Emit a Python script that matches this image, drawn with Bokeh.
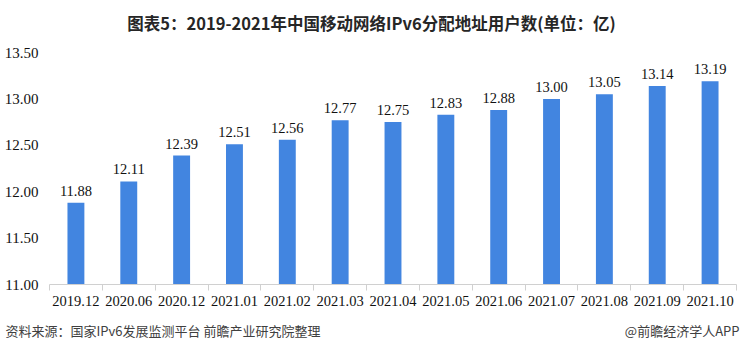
from bokeh.plotting import figure
from bokeh.layouts import column
from bokeh.models import ColumnDataSource, FixedTicker, Label, Range1d
from bokeh.embed import file_html
from bokeh.resources import INLINE
from bokeh.core.properties import value

categories = ["2019.12", "2020.06", "2020.12", "2021.01", "2021.02", "2021.03", "2021.04",
              "2021.05", "2021.06", "2021.07", "2021.08", "2021.09", "2021.10"]
values = [11.88, 12.11, 12.39, 12.51, 12.56, 12.77, 12.75, 12.83, 12.88, 13.00, 13.05, 13.14, 13.19]
y_ticks = [11.0, 11.5, 12.0, 12.5, 13.0, 13.5]

title_text = "图表5：2019-2021年中国移动网络IPv6分配地址用户数(单位：亿)"
source_text = "资料来源：国家IPv6发展监测平台 前瞻产业研究院整理"
brand_text = "@前瞻经济学人APP"

n = len(categories)
xs = [i + 0.5 for i in range(n)]
src = ColumnDataSource(dict(x=xs, top=values, lab=[f"{v:.2f}" for v in values]))

serif = "'Liberation Serif', 'Times New Roman', serif"
cjk = "'Noto Sans CJK SC', sans-serif"


def blank(h):
    f = figure(width=742, height=h, output_backend="svg", toolbar_location=None,
               x_axis_type=None, y_axis_type=None, x_range=Range1d(0, 1), y_range=Range1d(0, 1),
               min_border=0, min_border_left=0, min_border_right=0,
               min_border_top=0, min_border_bottom=0, frame_align=False)
    f.outline_line_color = None
    f.xgrid.grid_line_color = None
    f.ygrid.grid_line_color = None
    f.border_fill_color = "white"
    return f


# Header
head = blank(44)
head.add_layout(Label(x=371, y=22, x_units="screen", y_units="screen", text=title_text,
                      text_align="center", text_baseline="middle", text_font_style="bold",
                      text_font="'Liberation Sans Narrow', 'Arial Narrow', 'Noto Sans CJK SC', sans-serif",
                      text_font_size="16.5px", text_color="#262626"))

# Main chart
p = figure(width=742, height=268, output_backend="svg", toolbar_location=None,
           x_range=Range1d(0, n), y_range=Range1d(11.0, 13.5), frame_align=False,
           min_border_left=49, min_border_right=6, min_border_top=8, min_border_bottom=28)
p.outline_line_color = None
p.background_fill_color = "white"
p.border_fill_color = "white"
p.xgrid.grid_line_color = None
p.ygrid.grid_line_color = None

p.vbar(x="x", top="top", bottom=11.0, width=0.32, source=src, color="#4285e0", line_color=None)
p.text(x="x", y="top", text="lab", source=src, text_align="center", text_baseline="bottom",
       y_offset=-7, text_font=value(serif), text_font_size="14.5px", text_color="#111111")

p.xaxis.ticker = FixedTicker(ticks=xs, minor_ticks=list(range(n + 1)))
p.xaxis.major_label_overrides = {x: c for x, c in zip(xs, categories)}
p.xaxis.major_tick_line_color = None
p.xaxis.minor_tick_line_color = "#d0d0d0"
p.xaxis.minor_tick_out = 6
p.xaxis.minor_tick_in = 0
p.xaxis.axis_line_color = "#d0d0d0"
p.xaxis.major_label_text_font = serif
p.xaxis.major_label_text_font_size = "14.5px"
p.xaxis.major_label_text_color = "#111111"
p.xaxis.major_label_standoff = 5

p.yaxis.ticker = FixedTicker(ticks=y_ticks)
p.yaxis.major_label_overrides = {t: f"{t:.2f}" for t in y_ticks}
p.yaxis.axis_line_color = None
p.yaxis.major_tick_line_color = None
p.yaxis.minor_tick_line_color = None
p.yaxis.major_label_text_font = serif
p.yaxis.major_label_text_font_size = "15px"
p.yaxis.major_label_text_color = "#111111"
p.yaxis.major_label_standoff = 5

# Footer
foot = blank(41)
foot.add_layout(Label(x=5, y=23, x_units="screen", y_units="screen", text=source_text,
                      text_align="left", text_baseline="middle",
                      text_font=cjk, text_font_size="13px", text_color="#404040"))
foot.add_layout(Label(x=739, y=23, x_units="screen", y_units="screen", text=brand_text,
                      text_align="right", text_baseline="middle",
                      text_font=cjk, text_font_size="13px", text_color="#404040"))

layout = column(head, p, foot, spacing=0)
open("out.html", "w").write(file_html(layout, INLINE))
